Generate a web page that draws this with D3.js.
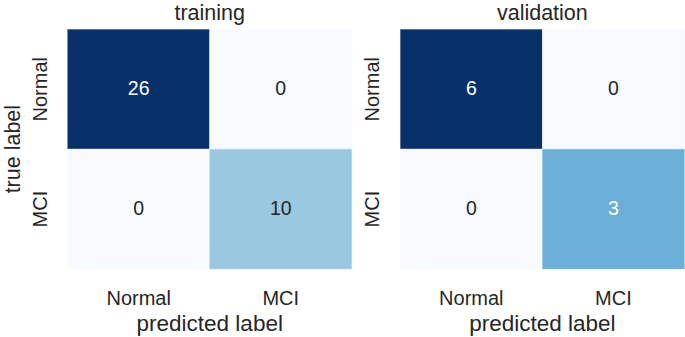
<!DOCTYPE html>
<html>
<head>
<meta charset="utf-8">
<script src="https://cdn.jsdelivr.net/npm/d3@7"></script>
<style>
  html, body { margin: 0; padding: 0; background: #fff; }
  svg { display: block; }
</style>
</head>
<body>
<svg id="chart" width="685" height="337"></svg>
<script>
// ---- data ----
const categories = ["Normal", "MCI"];
const panelTitles = ["training", "validation"];
const trainingMatrix = [[26, 0], [0, 10]];
const validationMatrix = [[6, 0], [0, 3]];
const xAxisLabel = "predicted label";
const yAxisLabel = "true label";

// ---- layout / style ----
const W = 685, H = 337;
const font = "'Liberation Sans', Arial, Helvetica, sans-serif";
const textDark = "#262626";
const bluesStops = ["#f7fbff","#deebf7","#c6dbef","#9ecae1","#6baed6","#4292c6","#2171b5","#08519c","#08306b"];
const panels = [
  { title: panelTitles[0], matrix: trainingMatrix, x0: 67.7, x1: 351.8, showYLabel: true },
  { title: panelTitles[1], matrix: validationMatrix, x0: 400.3, x1: 684.4, showYLabel: false }
];
const y0 = 29.3, y1 = 269;

const svg = d3.select("#chart");

function luminance(c) {
  const rgb = d3.rgb(c);
  const lin = v => { v /= 255; return v <= 0.03928 ? v / 12.92 : Math.pow((v + 0.055) / 1.055, 2.4); };
  return 0.2126 * lin(rgb.r) + 0.7152 * lin(rgb.g) + 0.0722 * lin(rgb.b);
}

panels.forEach(p => {
  const g = svg.append("g");
  const x = d3.scaleBand().domain(categories).range([p.x0, p.x1]);
  const y = d3.scaleBand().domain(categories).range([y0, y1]);
  const vmax = d3.max(p.matrix.flat());
  const color = d3.scaleLinear()
    .domain(bluesStops.map((_, i) => vmax * i / (bluesStops.length - 1)))
    .range(bluesStops)
    .interpolate(d3.interpolateRgb)
    .clamp(true);

  const cells = [];
  p.matrix.forEach((row, i) => row.forEach((v, j) => cells.push({ r: categories[i], c: categories[j], v })));

  g.selectAll("rect.cell").data(cells).join("rect")
    .attr("class", "cell")
    .attr("x", d => x(d.c))
    .attr("y", d => y(d.r))
    .attr("width", x.bandwidth())
    .attr("height", y.bandwidth())
    .attr("fill", d => color(d.v))
    .attr("stroke", d => d3.interpolateRgb(color(d.v), "#ffffff")(0.35))
    .attr("stroke-width", 0.6);

  g.selectAll("text.annot").data(cells).join("text")
    .attr("class", "annot")
    .attr("x", d => x(d.c) + x.bandwidth() / 2)
    .attr("y", d => y(d.r) + y.bandwidth() / 2)
    .attr("dy", "0.3em")
    .attr("text-anchor", "middle")
    .attr("font-family", font)
    .attr("font-size", 19.5)
    .attr("fill", d => luminance(color(d.v)) > 0.408 ? textDark : "#ffffff")
    .text(d => d.v);

  // title
  g.append("text")
    .attr("x", (p.x0 + p.x1) / 2)
    .attr("y", 19.6)
    .attr("text-anchor", "middle")
    .attr("font-family", font)
    .attr("font-size", 21.5)
    .attr("fill", textDark)
    .text(p.title);

  // x tick labels
  g.selectAll("text.xtick").data(categories).join("text")
    .attr("class", "xtick")
    .attr("x", d => x(d) + x.bandwidth() / 2)
    .attr("y", 305)
    .attr("text-anchor", "middle")
    .attr("font-family", font)
    .attr("font-size", 20)
    .attr("fill", textDark)
    .text(d => d);

  // y tick labels (rotated)
  g.selectAll("text.ytick").data(categories).join("text")
    .attr("class", "ytick")
    .attr("transform", d => `translate(${p.x0 - 21},${y(d) + y.bandwidth() / 2}) rotate(-90)`)
    .attr("text-anchor", "middle")
    .attr("font-family", font)
    .attr("font-size", 20)
    .attr("fill", textDark)
    .text(d => d);

  // x axis label
  g.append("text")
    .attr("x", (p.x0 + p.x1) / 2)
    .attr("y", 331)
    .attr("text-anchor", "middle")
    .attr("font-family", font)
    .attr("font-size", 22.5)
    .attr("fill", textDark)
    .text(xAxisLabel);

  if (p.showYLabel) {
    g.append("text")
      .attr("transform", `translate(19.7,${(y0 + y1) / 2}) rotate(-90)`)
      .attr("text-anchor", "middle")
      .attr("font-family", font)
      .attr("font-size", 21.5)
      .attr("fill", textDark)
      .text(yAxisLabel);
  }
});
</script>
</body>
</html>
